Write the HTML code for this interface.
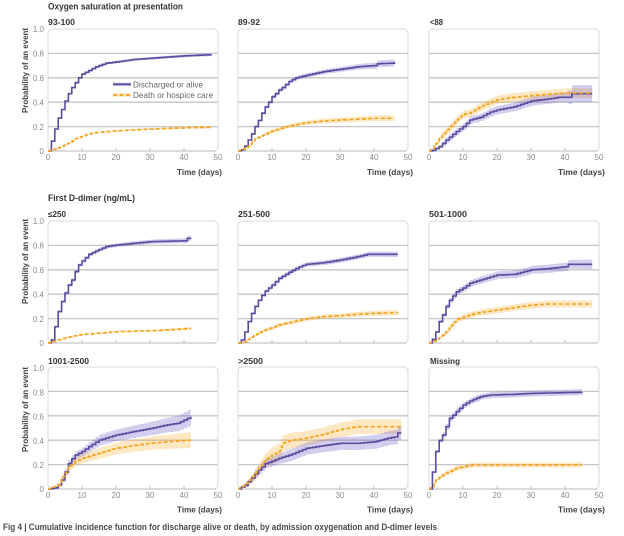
<!DOCTYPE html>
<html><head><meta charset="utf-8">
<style>
html,body{margin:0;padding:0;background:#fff;width:624px;height:536px;overflow:hidden}
svg{display:block}
text{font-family:"Liberation Sans",sans-serif}
.h{font-weight:bold;fill:#333;font-size:9.5px}
.pt{font-weight:bold;fill:#333;font-size:8px}
.tk{font-size:8px;fill:#8a8a8a}
.yt{font-weight:bold;fill:#444;font-size:8px}
.xt{font-weight:bold;fill:#444;font-size:8.5px}
.lg{font-size:8.5px;fill:#666}
</style></head><body>
<svg id="s" width="624" height="536" viewBox="0 0 624 536" xmlns="http://www.w3.org/2000/svg">
<defs>
<g id="fr">
<rect x="0" y="-122" width="170" height="122" rx="4" fill="none" stroke="#d8d8d8" stroke-width="1"/>
<path d="M0,-24.4H170M0,-48.8H170M0,-73.2H170M0,-97.6H170" stroke="#c6c6c6" stroke-width="1.3" fill="none"/>
<path d="M1,0H168" stroke="#c6c6c6" stroke-width="1.3"/>
<path d="M34,0V-3M68,0V-3M102,0V-3M136,0V-3" stroke="#bdbdbd" stroke-width="1"/>
</g>
</defs>
<use href="#fr" x="48" y="151"/><use href="#fr" x="238" y="151"/><use href="#fr" x="429" y="151"/>
<use href="#fr" x="48" y="343"/><use href="#fr" x="238" y="343"/><use href="#fr" x="429" y="343"/>
<use href="#fr" x="48" y="489"/><use href="#fr" x="238" y="489"/><use href="#fr" x="429" y="489"/>
<g id="data"></g>

<!-- headings -->
<text class="h" x="48" y="9.5" textLength="135" lengthAdjust="spacingAndGlyphs">Oxygen saturation at presentation</text>
<text class="pt" x="48" y="25" textLength="27" lengthAdjust="spacingAndGlyphs">93-100</text>
<text class="pt" x="238" y="25" textLength="22" lengthAdjust="spacingAndGlyphs">89-92</text>
<text class="pt" x="430" y="25" textLength="13" lengthAdjust="spacingAndGlyphs">&lt;88</text>
<text class="h" x="48" y="201" textLength="87" lengthAdjust="spacingAndGlyphs">First D-dimer (ng/mL)</text>
<text class="pt" x="48" y="217" textLength="18" lengthAdjust="spacingAndGlyphs">≤250</text>
<text class="pt" x="238" y="217" textLength="32" lengthAdjust="spacingAndGlyphs">251-500</text>
<text class="pt" x="429" y="217" textLength="38" lengthAdjust="spacingAndGlyphs">501-1000</text>
<text class="pt" x="48" y="364" textLength="41" lengthAdjust="spacingAndGlyphs">1001-2500</text>
<text class="pt" x="238" y="364" textLength="25" lengthAdjust="spacingAndGlyphs">&gt;2500</text>
<text class="pt" x="430" y="364" textLength="30" lengthAdjust="spacingAndGlyphs">Missing</text>

<!-- y ticks -->
<g class="tk" text-anchor="end">
<text x="44" y="32">1.0</text><text x="44" y="56.6">0.8</text><text x="44" y="81">0.6</text><text x="44" y="105.4">0.4</text><text x="44" y="129.8">0.2</text><text x="44" y="154">0</text>
<text x="44" y="224">1.0</text><text x="44" y="248.6">0.8</text><text x="44" y="273">0.6</text><text x="44" y="297.4">0.4</text><text x="44" y="321.8">0.2</text><text x="44" y="346">0</text>
<text x="44" y="371">1.0</text><text x="44" y="395.4">0.8</text><text x="44" y="419.6">0.6</text><text x="44" y="443.8">0.4</text><text x="44" y="468">0.2</text><text x="44" y="492">0</text>
</g>
<!-- y titles -->
<text class="yt" transform="translate(28,28) rotate(-90)" text-anchor="end" textLength="85" lengthAdjust="spacingAndGlyphs">Probability of an event</text>
<text class="yt" transform="translate(28,219) rotate(-90)" text-anchor="end" textLength="85" lengthAdjust="spacingAndGlyphs">Probability of an event</text>
<text class="yt" transform="translate(28,367) rotate(-90)" text-anchor="end" textLength="85" lengthAdjust="spacingAndGlyphs">Probability of an event</text>

<!-- x ticks row1 -->
<g class="tk" text-anchor="middle">
<text x="48" y="160">0</text><text x="82" y="160">10</text><text x="116" y="160">20</text><text x="150" y="160">30</text><text x="184" y="160">40</text><text x="218" y="160">50</text>
<text x="238" y="160">0</text><text x="272" y="160">10</text><text x="306" y="160">20</text><text x="340" y="160">30</text><text x="374" y="160">40</text><text x="408" y="160">50</text>
<text x="429" y="160">0</text><text x="463" y="160">10</text><text x="497" y="160">20</text><text x="531" y="160">30</text><text x="565" y="160">40</text><text x="599" y="160">50</text>
<text x="48" y="498">0</text><text x="82" y="498">10</text><text x="116" y="498">20</text><text x="150" y="498">30</text><text x="184" y="498">40</text><text x="218" y="498">50</text>
<text x="238" y="498">0</text><text x="272" y="498">10</text><text x="306" y="498">20</text><text x="340" y="498">30</text><text x="374" y="498">40</text><text x="408" y="498">50</text>
<text x="429" y="498">0</text><text x="463" y="498">10</text><text x="497" y="498">20</text><text x="531" y="498">30</text><text x="565" y="498">40</text><text x="599" y="498">50</text>
</g>
<g class="xt" text-anchor="end">
<text x="222" y="175" textLength="45" lengthAdjust="spacingAndGlyphs">Time (days)</text>
<text x="413" y="175" textLength="46" lengthAdjust="spacingAndGlyphs">Time (days)</text>
<text x="605" y="175" textLength="47" lengthAdjust="spacingAndGlyphs">Time (days)</text>
<text x="222" y="512.5" textLength="45" lengthAdjust="spacingAndGlyphs">Time (days)</text>
<text x="413" y="512.5" textLength="46" lengthAdjust="spacingAndGlyphs">Time (days)</text>
<text x="605" y="512.5" textLength="47" lengthAdjust="spacingAndGlyphs">Time (days)</text>
</g>

<!-- legend -->
<rect x="113" y="82.6" width="18" height="3.4" fill="#d5cfeb"/>
<path d="M113,84.3H131" stroke="#5b4b9e" stroke-width="1.8"/>
<rect x="113" y="93.3" width="18" height="3.4" fill="#fde6bd"/>
<path d="M113,95H131" stroke="#f4a31f" stroke-width="1.8" stroke-dasharray="4 2.5"/>
<text class="lg" x="133" y="87.5" textLength="70" lengthAdjust="spacingAndGlyphs">Discharged or alive</text>
<text class="lg" x="133" y="98.2" textLength="80" lengthAdjust="spacingAndGlyphs">Death or hospice care</text>

<!-- caption -->
<text x="3" y="530" font-size="9px" font-weight="bold" fill="#4a4a4a" textLength="434" lengthAdjust="spacingAndGlyphs">Fig 4 | Cumulative incidence function for discharge alive or death, by admission oxygenation and D-dimer levels</text>
</svg>
<script>
(function(){
const cols=[48,238,429];
const rows=[{y0:151,h:122},{y0:343,h:122},{y0:489,h:121}];
const P=[
{c:0,r:0,
 pu:[[0,0],[1,.08],[2,.18],[3,.27],[4,.34],[5,.41],[6,.47],[7,.52],[8,.56],[9,.6],[10,.63],[12,.66],[14,.69],[17,.72],[20,.73],[25,.75],[30,.76],[35,.77],[40,.78],[48,.79]],wu:[[0,0],[10,.01],[48,.012]],tu:48,
 po:[[0,0],[2,.015],[3,.025],[5,.05],[7,.08],[8,.1],[10,.12],[12,.14],[14,.15],[20,.165],[30,.18],[40,.19],[48,.195]],wo:[[0,0],[48,.01]],to:48},
{c:1,r:0,
 pu:[[0,0],[1,.01],[2,.04],[3,.09],[4,.14],[5,.2],[6,.25],[7,.31],[8,.36],[9,.4],[10,.445],[11,.47],[12,.5],[13,.52],[15,.57],[17,.6],[20,.62],[25,.65],[30,.67],[35,.69],[40,.7],[41,.715],[45,.72],[46,.73]],wu:[[0,0],[10,.015],[30,.02],[46,.03]],tu:46,
 po:[[0,0],[2,.02],[3,.04],[5,.1],[7,.125],[10,.164],[15,.205],[20,.232],[25,.246],[30,.254],[40,.268],[46,.268]],wo:[[0,0],[10,.015],[46,.025]],to:46},
{c:2,r:0,
 pu:[[0,0],[1,.005],[3,.035],[5,.09],[8,.16],[10,.2],[12,.254],[15,.276],[18,.32],[20,.336],[25,.363],[30,.41],[35,.426],[38,.44],[41,.44],[42,.47],[48,.47]],wu:[[0,0],[5,.025],[20,.035],[40,.04],[42,.07],[48,.07]],tu:48,
 po:[[0,0],[1,.02],[3,.1],[5,.16],[8,.25],[10,.3],[12,.31],[15,.36],[20,.42],[25,.44],[30,.453],[35,.465],[40,.475],[48,.475]],wo:[[0,0],[5,.03],[20,.035],[48,.04]],to:48},
{c:0,r:1,
 pu:[[0,0],[1,.025],[2,.134],[3,.257],[4,.34],[5,.41],[6,.475],[7,.516],[8,.585],[9,.64],[10,.672],[12,.727],[14,.754],[17,.79],[20,.803],[25,.817],[30,.83],[40,.838],[41,.858],[42,.86]],wu:[[0,0],[5,.012],[20,.015],[40,.02],[42,.025]],tu:42,
 po:[[0,0],[3,.025],[5,.04],[8,.06],[10,.07],[15,.08],[20,.093],[30,.1],[35,.107],[42,.12]],wo:[[0,0],[42,.012]],to:42},
{c:1,r:1,
 pu:[[0,0],[1,.025],[2,.09],[3,.175],[4,.243],[5,.3],[6,.35],[7,.39],[8,.426],[10,.475],[12,.53],[15,.58],[18,.625],[20,.645],[25,.658],[30,.68],[35,.707],[38,.727],[47,.727]],wu:[[0,0],[10,.015],[30,.02],[47,.022]],tu:47,
 po:[[0,0],[2,.01],[5,.066],[8,.107],[10,.125],[12,.148],[15,.167],[20,.197],[25,.216],[30,.224],[35,.235],[40,.243],[47,.25]],wo:[[0,0],[10,.015],[47,.022]],to:47},
{c:2,r:1,
 pu:[[0,0],[1,.03],[2,.09],[3,.175],[4,.23],[5,.3],[6,.35],[8,.42],[10,.45],[12,.49],[15,.516],[20,.557],[25,.563],[30,.6],[35,.61],[40,.625],[41,.645],[48,.645]],wu:[[0,0],[5,.02],[15,.03],[40,.035],[48,.04]],tu:48,
 po:[[0,0],[2,.02],[5,.09],[8,.19],[10,.21],[12,.23],[15,.25],[20,.27],[25,.29],[30,.31],[35,.32],[48,.32]],wo:[[0,0],[10,.025],[48,.03]],to:48},
{c:0,r:2,
 pu:[[0,0],[2,.01],[3,.033],[4,.074],[5,.14],[6,.21],[7,.25],[8,.28],[10,.31],[12,.35],[15,.405],[20,.446],[25,.474],[30,.5],[35,.53],[38,.543],[40,.57],[42,.597]],wu:[[0,0],[5,.025],[15,.045],[30,.055],[42,.07]],tu:42,
 po:[[0,0],[3,.03],[5,.13],[6,.185],[7,.2],[8,.226],[10,.254],[12,.27],[15,.295],[20,.336],[25,.358],[30,.378],[35,.39],[42,.405]],wo:[[0,0],[5,.03],[15,.045],[30,.055],[42,.065]],to:42},
{c:1,r:2,
 pu:[[0,0],[2,.03],[4,.09],[6,.157],[8,.21],[10,.23],[12,.254],[15,.28],[20,.336],[25,.358],[30,.378],[35,.378],[40,.39],[44,.42],[46,.43],[47,.462],[48,.462]],wu:[[0,0],[5,.03],[15,.05],[48,.06]],tu:48,
 po:[[0,0],[2,.033],[4,.088],[6,.17],[8,.24],[10,.28],[12,.31],[13,.377],[15,.397],[20,.42],[25,.45],[30,.49],[35,.515],[48,.515]],wo:[[0,0],[5,.04],[10,.07],[20,.06],[48,.06]],to:48},
{c:2,r:2,
 pu:[[0,0],[1,.14],[2,.31],[3,.4],[4,.446],[5,.515],[6,.584],[7,.61],[8,.64],[10,.694],[12,.727],[15,.763],[18,.777],[25,.783],[30,.79],[45,.8]],wu:[[0,0],[5,.025],[45,.025]],tu:45,
 po:[[0,0],[1,.02],[2,.074],[4,.116],[6,.143],[8,.171],[10,.184],[13,.198],[45,.2]],wo:[[0,0],[5,.02],[45,.022]],to:45}
];
function ip(a,t){if(t<=a[0][0])return a[0][1];for(let i=1;i<a.length;i++){if(t<=a[i][0]){const t0=a[i-1][0],v0=a[i-1][1],t1=a[i][0],v1=a[i][1];return v0+(v1-v0)*(t-t0)/(t1-t0);}}return a[a.length-1][1];}
function build(X,Y,pts,w,te,dt){
  const ts=[];for(let t=0;t<te-1e-9;t+=dt)ts.push(+t.toFixed(3));ts.push(te);
  let line='M'+X(0).toFixed(1)+','+Y(0).toFixed(1);const up=[],lo=[];
  for(let i=0;i<ts.length;i++){
    const t=ts[i],v=ip(pts,t),ww=ip(w,t),tn=i+1<ts.length?ts[i+1]:te;
    line+='V'+Y(v).toFixed(1)+'H'+X(tn).toFixed(1);
    up.push([X(t),Y(v+ww)],[X(tn),Y(v+ww)]);
    lo.push([X(t),Y(Math.max(0,v-ww))],[X(tn),Y(Math.max(0,v-ww))]);
  }
  const poly=up.concat(lo.reverse()).map(p=>p[0].toFixed(1)+','+p[1].toFixed(1)).join(' ');
  return {line,poly};
}
let out='';
P.forEach(p=>{
  const x0=cols[p.c],R=rows[p.r];
  const X=t=>x0+3.4*t, Y=v=>R.y0-R.h*v;
  const u=build(X,Y,p.pu,p.wu,p.tu,1);
  const o=build(X,Y,p.po,p.wo,p.to,0.5);
  out+='<polygon points="'+o.poly+'" fill="rgba(250,170,35,0.27)"/>';
  out+='<polygon points="'+u.poly+'" fill="rgba(110,94,200,0.3)"/>';
  out+='<path d="'+u.line+'" fill="none" stroke="#5b4b9e" stroke-width="1.6"/>';
  out+='<path d="'+o.line+'" fill="none" stroke="#f4a31f" stroke-width="1.6" stroke-dasharray="4 2.5"/>';
});
document.getElementById('data').innerHTML=out;
})();
</script>
</body></html>
